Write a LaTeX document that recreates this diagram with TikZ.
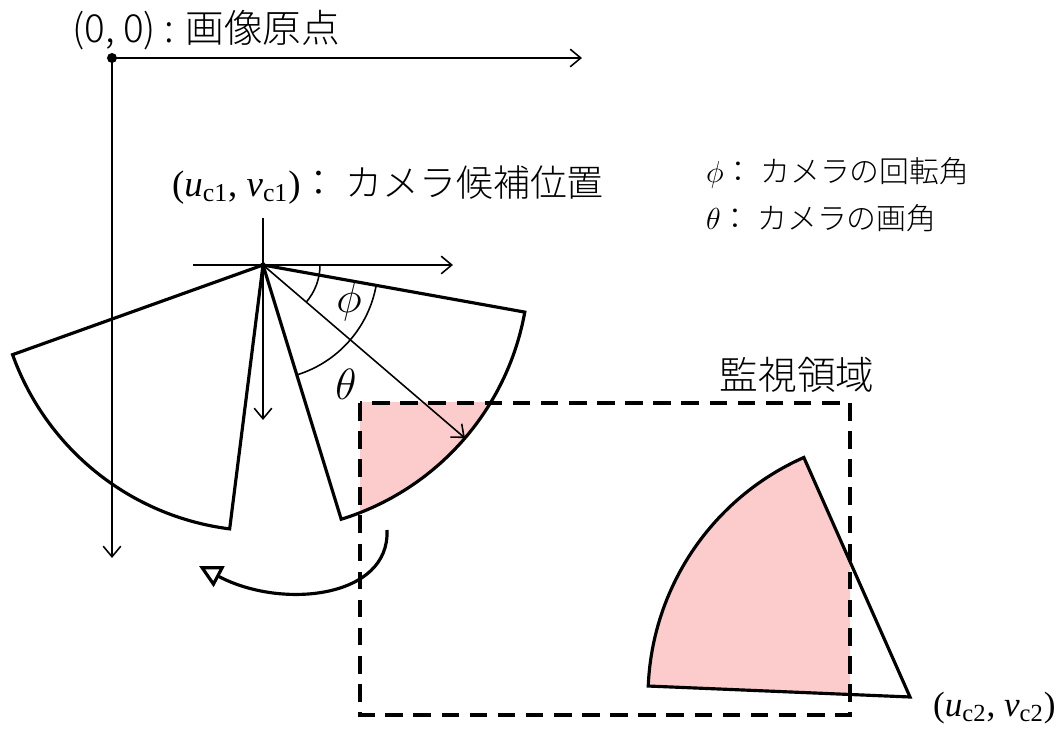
\documentclass[tikz,border=0pt]{standalone}
\usepackage{fontspec}
\setmainfont{Liberation Serif}
\newfontfamily\jpfont{Noto Sans CJK JP Light}
\usetikzlibrary{arrows.meta, positioning, calc}
\definecolor{viewpink}{RGB}{252,204,204}

\begin{document}
\begin{tikzpicture}[
  x=0.02cm, y=0.02cm,
  axis/.style={line width=0.9pt, -{Straight Barb[length=6pt, width=10pt]}},
  fov/.style={line width=1.8pt, line join=miter},
  big/.style={font={\jpfont\fontsize{22}{26}\selectfont}},
  mathlbl/.style={font=\fontsize{24}{28}\selectfont},
  coordlbl/.style={font=\fontsize{21}{25}\selectfont},
  legend/.style={font={\fontsize{18}{22}\selectfont}},
]
\useasboundingbox (0,0) rectangle (1063,-729);

% image axes
\coordinate (O) at (112,-58);
\coordinate (Uend) at (582,-58);
\coordinate (Vend) at (112,-558);
\draw[axis] (O) -- (Uend);
\draw[axis] (O) -- (Vend);
\fill (O) circle (5);
\node[big, anchor=west] (origin) at (66,-30) {(0, 0) : 画像原点};

% monitoring area, shaded overlaps first
\begin{scope}
\clip (360,-403) rectangle (850,-715);
\fill[viewpink] (263,-265) -- ++(-10.2:266) arc[start angle=-10.2, end angle=-72.9, radius=266] -- cycle;
\fill[viewpink] (910,-697) -- ++(113.9:262) arc[start angle=113.9, end angle=177.6, radius=262] -- cycle;
\end{scope}
\draw[line width=1.8pt, dash pattern=on 10pt off 6pt] (360,-403) rectangle (850,-715);
\node[font={\jpfont\fontsize{22}{26}\selectfont}] (area) at (797,-375) {監視領域};

% camera 1
\coordinate (C1) at (263,-265);
\coordinate (C1up) at (263,-218);
\coordinate (C1v) at (263,-420);
\coordinate (C1l) at (193,-265);
\coordinate (C1u) at (453,-265);
\draw[line width=0.9pt] (C1up) -- (C1);
\draw[axis] (C1) -- (C1v);
\draw[line width=0.9pt] (C1l) -- (C1);
\draw[axis] (C1) -- (C1u);
\draw[fov] (C1) -- ++(199.7:266) arc[start angle=199.7, end angle=262.8, radius=266] -- cycle;
\draw[fov] (C1) -- ++(-10.2:266) arc[start angle=-10.2, end angle=-72.9, radius=266] -- cycle;
\coordinate (dir) at ($(C1)+(-40.6:266)$);
\draw[line width=0.9pt, -{Straight Barb[length=6pt, width=10pt]}] (C1) -- (dir);
\draw[line width=0.9pt] ($(C1)+(0:57)$) arc[start angle=0, end angle=-40.6, radius=57];
\draw[line width=0.9pt] ($(C1)+(-10.2:115)$) arc[start angle=-10.2, end angle=-72.9, radius=115];
\node[mathlbl] (phi) at (349,-302) {$\phi$};
\node[mathlbl] (theta) at (346,-384) {$\theta$};
\node[coordlbl, anchor=west] (c1lbl) at (166,-185) {(\textit{u}\textsubscript{c1}, \textit{v}\textsubscript{c1})\jpfont ： カメラ候補位置};

% rotation
\coordinate (rotA) at (387,-530);
\coordinate (rotB) at (199,-566);
\draw[line width=1.8pt, -{Triangle[open, length=13pt, width=13pt, line width=1.8pt]}] (rotA) .. controls (390,-598) and (282,-610) .. (rotB);

% camera 2
\coordinate (C2) at (910,-697);
\draw[fov] (C2) -- ++(113.9:262) arc[start angle=113.9, end angle=177.6, radius=262] -- cycle;
\node[coordlbl, anchor=west, font=\fontsize{20}{24}\selectfont] (c2lbl) at (927,-708) {(\textit{u}\textsubscript{c2}, \textit{v}\textsubscript{c2})};

% legend
\node[legend, anchor=west] (legphi) at (700,-173) {$\phi$\jpfont\fontsize{17}{20}\selectfont ： カメラの回転角};
\node[legend, anchor=west] (legtheta) at (700,-218) {$\theta$\jpfont\fontsize{17}{20}\selectfont ： カメラの画角};
\end{tikzpicture}
\end{document}
